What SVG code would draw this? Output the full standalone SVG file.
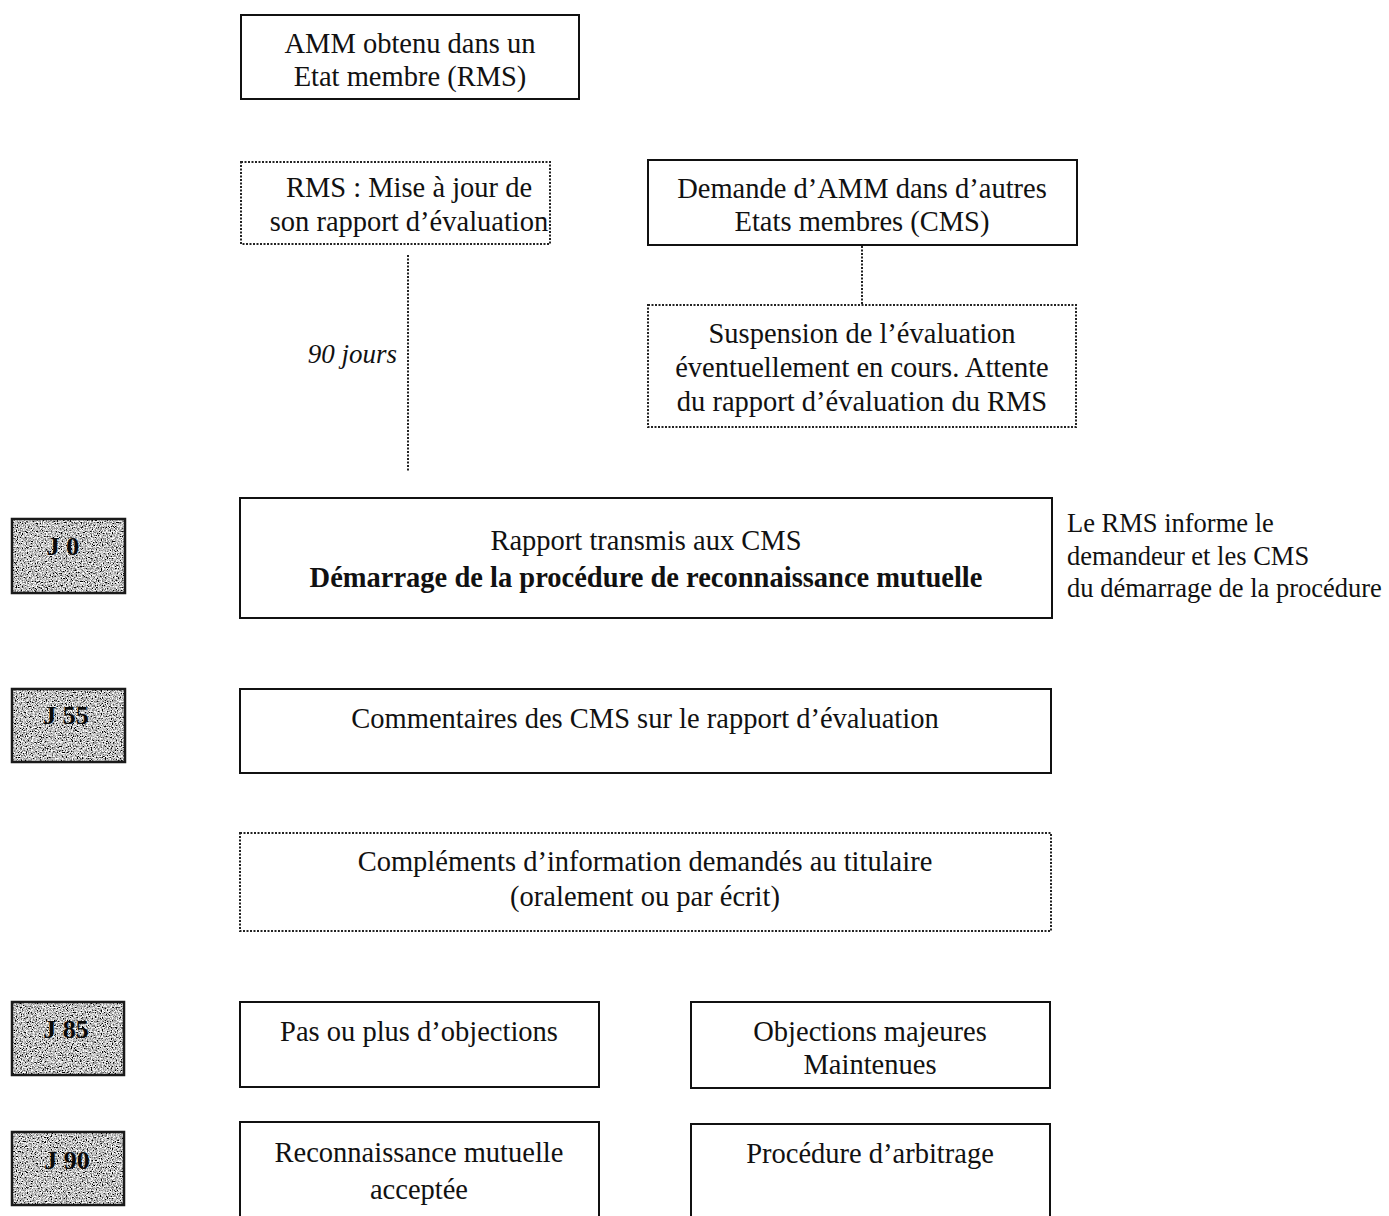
<svg xmlns="http://www.w3.org/2000/svg" width="1389" height="1216" viewBox="0 0 1389 1216">
<defs>
<filter id="grain" x="0" y="0" width="100%" height="100%">
<feTurbulence type="fractalNoise" baseFrequency="0.8" numOctaves="2" seed="4" result="n"/>
<feColorMatrix in="n" type="matrix" values="1.5 1.5 1.5 0 -1.72  1.5 1.5 1.5 0 -1.72  1.5 1.5 1.5 0 -1.72  0 0 0 0 1" result="g"/>
<feComposite in="g" in2="SourceGraphic" operator="in"/>
</filter>
</defs>
<style>
.box{fill:#fff;stroke:#111;stroke-width:2}
.dot{fill:#fff;stroke:#222;stroke-width:2;stroke-dasharray:2 1.5}
.jf{fill:#8c8c8c}
.jb{fill:none;stroke:#1a1a1a;stroke-width:2.5}
.t{font-family:"Liberation Serif","Times New Roman",serif;font-size:28.5px;fill:#111;text-anchor:middle}
.jt{font-family:"Liberation Serif","Times New Roman",serif;font-size:26px;font-weight:bold;fill:#0a0a0a;text-anchor:middle}
.side{font-family:"Liberation Serif","Times New Roman",serif;font-size:26.5px;fill:#111}
.conn{stroke:#222;stroke-width:2;stroke-dasharray:2 1.5;fill:none}
</style>
<rect width="1389" height="1216" fill="#fff"/>
<g id="connectors">
<line class="conn" x1="408" y1="255" x2="408" y2="472"/>
<line class="conn" x1="862" y1="246" x2="862" y2="305"/>
<text x="397" y="363" class="t" style="text-anchor:end;font-style:italic;font-size:27px">90 jours</text>
</g>
<g id="n-amm">
<rect class="box" x="241" y="15" width="338" height="84"/>
<text class="t" x="410" y="53">AMM obtenu dans un</text>
<text class="t" x="410" y="86">Etat membre (RMS)</text>
</g>
<g id="n-rms">
<rect class="dot" x="241" y="162" width="309" height="82"/>
<text class="t" x="409" y="197">RMS : Mise à jour de</text>
<text class="t" x="409" y="231">son rapport d’évaluation</text>
</g>
<g id="n-demande">
<rect class="box" x="648" y="160" width="429" height="85"/>
<text class="t" x="862" y="198">Demande d’AMM dans d’autres</text>
<text class="t" x="862" y="231">Etats membres (CMS)</text>
</g>
<g id="n-suspension">
<rect class="dot" x="648" y="305" width="428" height="122"/>
<text class="t" x="862" y="343">Suspension de l’évaluation</text>
<text class="t" x="862" y="377">éventuellement en cours. Attente</text>
<text class="t" x="862" y="411">du rapport d’évaluation du RMS</text>
</g>
<g id="n-j0">
<rect class="jf" filter="url(#grain)" x="12" y="519" width="113" height="74"/>
<rect class="jb" x="12" y="519" width="113" height="74"/>
<text class="jt" x="63" y="555">J 0</text>
</g>
<g id="n-rapport">
<rect class="box" x="240" y="498" width="812" height="120"/>
<text class="t" x="646" y="550">Rapport transmis aux CMS</text>
<text class="t" x="646" y="587" font-weight="bold">Démarrage de la procédure de reconnaissance mutuelle</text>
</g>
<g id="n-info">
<text class="side" x="1067" y="532">Le RMS informe le</text>
<text class="side" x="1067" y="565">demandeur et les CMS</text>
<text class="side" x="1067" y="597">du démarrage de la procédure</text>
</g>
<g id="n-j55">
<rect class="jf" filter="url(#grain)" x="12" y="689" width="113" height="73"/>
<rect class="jb" x="12" y="689" width="113" height="73"/>
<text class="jt" x="66" y="724">J 55</text>
</g>
<g id="n-commentaires">
<rect class="box" x="240" y="689" width="811" height="84"/>
<text class="t" x="645" y="728">Commentaires des CMS sur le rapport d’évaluation</text>
</g>
<g id="n-complements">
<rect class="dot" x="240" y="833" width="811" height="98"/>
<text class="t" x="645" y="871">Compléments d’information demandés au titulaire</text>
<text class="t" x="645" y="906">(oralement ou par écrit)</text>
</g>
<g id="n-j85">
<rect class="jf" filter="url(#grain)" x="12" y="1002" width="112" height="73"/>
<rect class="jb" x="12" y="1002" width="112" height="73"/>
<text class="jt" x="66" y="1038">J 85</text>
</g>
<g id="n-pas">
<rect class="box" x="240" y="1002" width="359" height="85"/>
<text class="t" x="419" y="1041">Pas ou plus d’objections</text>
</g>
<g id="n-objections">
<rect class="box" x="691" y="1002" width="359" height="86"/>
<text class="t" x="870" y="1041">Objections majeures</text>
<text class="t" x="870" y="1074">Maintenues</text>
</g>
<g id="n-j90">
<rect class="jf" filter="url(#grain)" x="12" y="1132" width="112" height="73"/>
<rect class="jb" x="12" y="1132" width="112" height="73"/>
<text class="jt" x="67" y="1169">J 90</text>
</g>
<g id="n-reconnaissance">
<rect class="box" x="240" y="1122" width="359" height="110"/>
<text class="t" x="419" y="1162">Reconnaissance mutuelle</text>
<text class="t" x="419" y="1199">acceptée</text>
</g>
<g id="n-arbitrage">
<rect class="box" x="691" y="1124" width="359" height="110"/>
<text class="t" x="870" y="1163">Procédure d’arbitrage</text>
</g>
</svg>
